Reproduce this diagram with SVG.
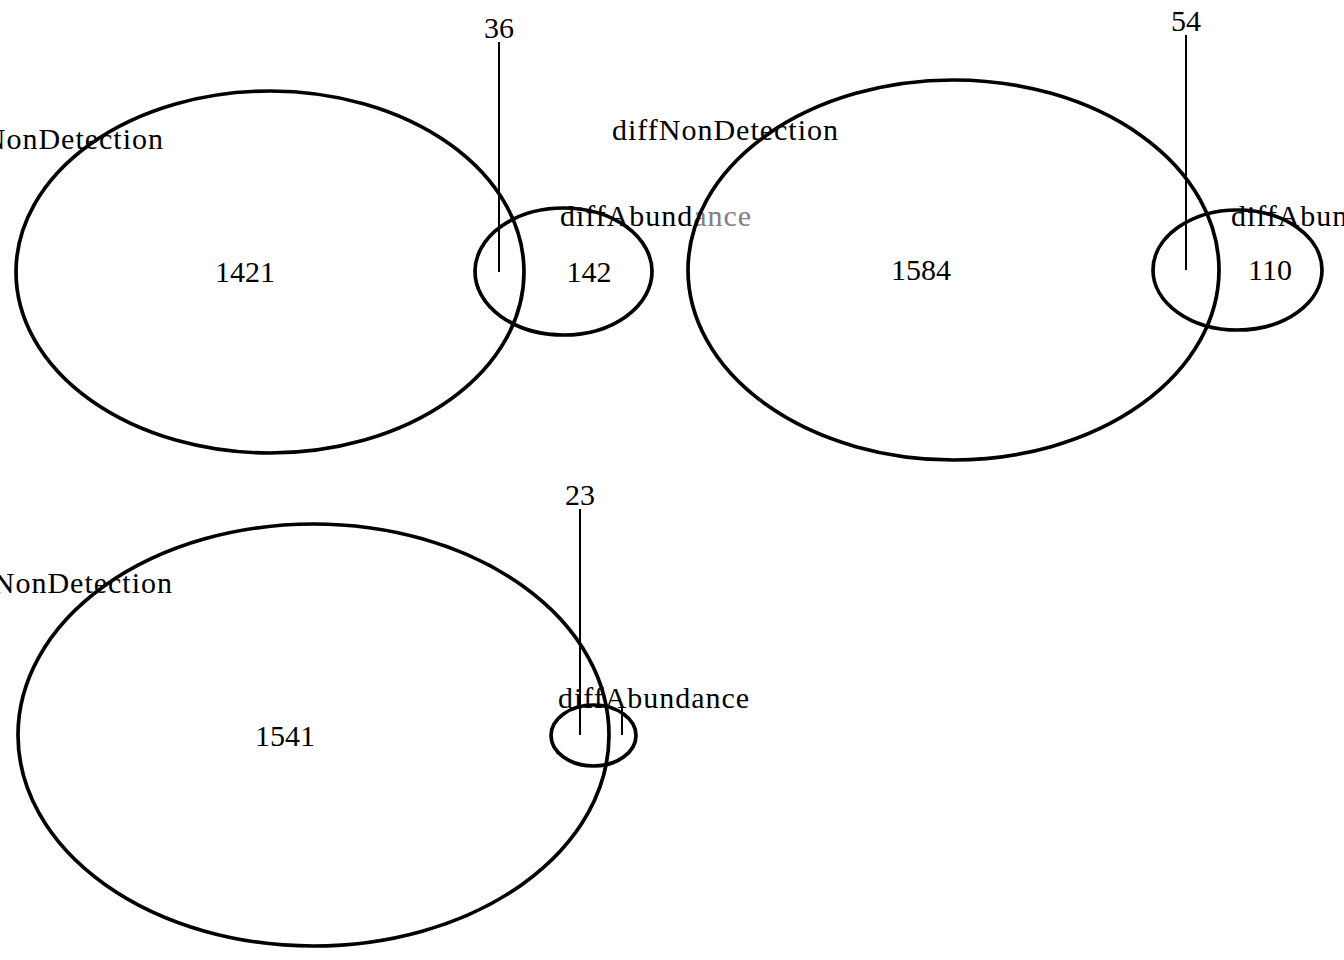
<svg xmlns="http://www.w3.org/2000/svg" width="1344" height="960" viewBox="0 0 1344 960">
<style>
.e{fill:none;stroke:#000;stroke-width:3.7}
.l{stroke:#000;stroke-width:2;fill:none}
text{font-family:"Liberation Serif","Times New Roman",serif;font-size:30px;fill:#000}
.c{text-anchor:middle}
.g{fill:#808080}
</style>
<rect width="1344" height="960" fill="#fff"/>
<g id="panel1">
<g id="p1-diffNonDetection"><ellipse class="e" cx="270" cy="272" rx="254" ry="181"/><text x="-63" y="149" textLength="226" lengthAdjust="spacing">diffNonDetection</text><text class="c" x="245" y="282">1421</text></g>
<g id="p1-diffAbundance"><ellipse class="e" cx="563.5" cy="271.5" rx="88.5" ry="63.5"/><text x="560" y="226" textLength="191" lengthAdjust="spacing">diffAbund<tspan class="g">ance</tspan></text><text class="c" x="589" y="282">142</text></g>
<g id="p1-connectors"><line class="l" x1="499" y1="42" x2="499" y2="272"/></g>
<text class="c" x="499" y="38">36</text>
</g>
<g id="panel2">
<g id="p2-diffNonDetection"><ellipse class="e" cx="953.5" cy="270" rx="265.5" ry="190"/><text x="612" y="140" textLength="226" lengthAdjust="spacing">diffNonDetection</text><text class="c" x="921" y="280">1584</text></g>
<g id="p2-diffAbundance"><ellipse class="e" cx="1237.5" cy="270" rx="84.5" ry="60"/><text x="1231" y="226" textLength="191" lengthAdjust="spacing">diffAbundance</text><text class="c" x="1270" y="280">110</text></g>
<g id="p2-connectors"><line class="l" x1="1186" y1="35" x2="1186" y2="270"/></g>
<text class="c" x="1186" y="31">54</text>
</g>
<g id="panel3">
<g id="p3-diffNonDetection"><ellipse class="e" cx="313.5" cy="735" rx="295.5" ry="211"/><text x="-54" y="593" textLength="226" lengthAdjust="spacing">diffNonDetection</text><text class="c" x="285" y="746">1541</text></g>
<g id="p3-diffAbundance"><ellipse class="e" cx="593.5" cy="735.5" rx="42.5" ry="30.5"/><text x="558" y="708" textLength="191" lengthAdjust="spacing">diffAbundance</text></g>
<g id="p3-connectors"><line class="l" x1="580" y1="509" x2="580" y2="735"/><line class="l" x1="622" y1="708" x2="622" y2="735"/></g>
<text class="c" x="580" y="505">23</text>
</g>
</svg>
